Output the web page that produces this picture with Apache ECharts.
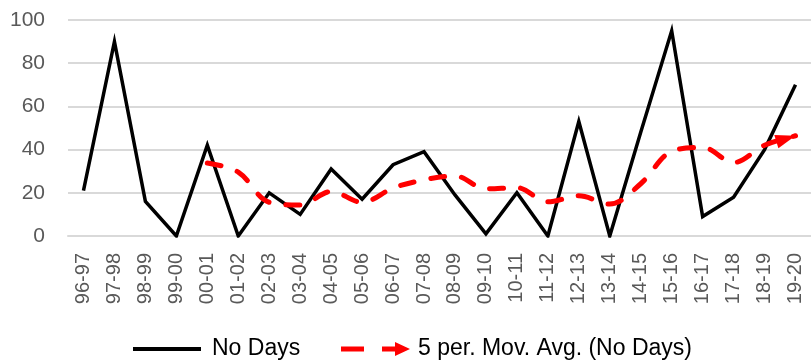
<!DOCTYPE html>
<html>
<head>
<meta charset="utf-8">
<script src="https://cdn.jsdelivr.net/npm/echarts@6/dist/echarts.min.js"></script>
<style>
  html, body { margin: 0; padding: 0; background: #fff; }
  #chart { width: 811px; height: 363px; }
</style>
</head>
<body>
<div id="chart"></div>
<script>
// seasons
const seasons = ['96-97', '97-98', '98-99', '99-00', '00-01', '01-02', '02-03', '03-04',
  '04-05', '05-06', '06-07', '07-08', '08-09', '09-10', '10-11', '11-12', '12-13',
  '13-14', '14-15', '15-16', '16-17', '17-18', '18-19', '19-20']
// number of days
const noDays = [21, 90, 16, 0, 42, 0, 20, 10, 31, 17, 33, 39, 19, 1, 20, 0, 53, 0, 48, 95, 9, 18, 40, 70]
// 5 period moving average
const movAvg = [null, null, null, null, 33.8, 29.6, 15.6, 14.4, 20.6, 15.6, 22.2, 26, 27.8,
  21.8, 22.4, 15.8, 18.6, 14.8, 24.2, 39.2, 41, 34, 42, 46.4]
const yTicks = { min: 0, max: 100, interval: 20 }

const names = ['No Days', '5 per. Mov. Avg. (No Days)']
const font = 'Liberation Sans, Arial, sans-serif'

const arrowPath = 'path://M0,0 L20,7 L0,14 Z'
const legendArrow = 'path://M0,4.5 L23,4.5 L23,9.5 L0,9.5 Z M41,4.5 L54,4.5 L54,0 L69,7 L54,14 L54,9.5 L41,9.5 Z'

const avgData = movAvg.map((v, i) => {
  if (i === movAvg.length - 1) {
    return {
      value: v,
      symbol: arrowPath,
      symbolSize: [20, 14],
      symbolRotate: 17,
      symbolOffset: [-9.6, 2.9],
      itemStyle: { color: '#ff0000' }
    }
  }
  return v
})

const chart = echarts.init(document.getElementById('chart'))
chart.setOption({
  animation: false,
  grid: { left: 68, right: 0, top: 20, bottom: 127 },
  legend: [
    {
      data: [{ name: names[0], icon: 'rect' }],
      left: 133, top: 337, padding: 0,
      itemWidth: 68, itemHeight: 4,
      itemStyle: { color: '#000' },
      textStyle: { fontFamily: font, fontSize: 23, color: '#000', lineHeight: 24, padding: [0, 0, 0, 6] }
    },
    {
      data: [{ name: names[1], icon: legendArrow }],
      left: 341, top: 337, padding: 0,
      itemWidth: 69, itemHeight: 14,
      itemStyle: { color: '#ff0000' },
      textStyle: { fontFamily: font, fontSize: 23, color: '#000', lineHeight: 24, padding: [0, 0, 0, 3] }
    }
  ],
  xAxis: {
    type: 'category',
    data: seasons,
    boundaryGap: true,
    axisLine: { lineStyle: { color: '#d9d9d9', width: 2 } },
    axisTick: { show: false },
    axisLabel: {
      interval: 0,
      rotate: 90,
      margin: 17,
      fontFamily: font,
      fontSize: 20,
      color: '#595959'
    }
  },
  yAxis: {
    type: 'value',
    min: yTicks.min,
    max: yTicks.max,
    interval: yTicks.interval,
    axisLine: { show: false },
    axisTick: { show: false },
    splitLine: { lineStyle: { color: '#d9d9d9', width: 2 } },
    axisLabel: { margin: 23, fontFamily: font, fontSize: 21, color: '#595959' }
  },
  series: [
    {
      name: names[0],
      type: 'line',
      data: noDays,
      symbol: 'none',
      lineStyle: { color: '#000', width: 3.5, join: 'miter' },
      itemStyle: { color: '#000' }
    },
    {
      name: names[1],
      type: 'line',
      data: avgData,
      symbol: 'none',
      smooth: 0.35,
      lineStyle: { color: '#ff0000', width: 5, type: [14, 17], cap: 'round' },
      itemStyle: { color: '#ff0000' }
    }
  ]
})
</script>
</body>
</html>
